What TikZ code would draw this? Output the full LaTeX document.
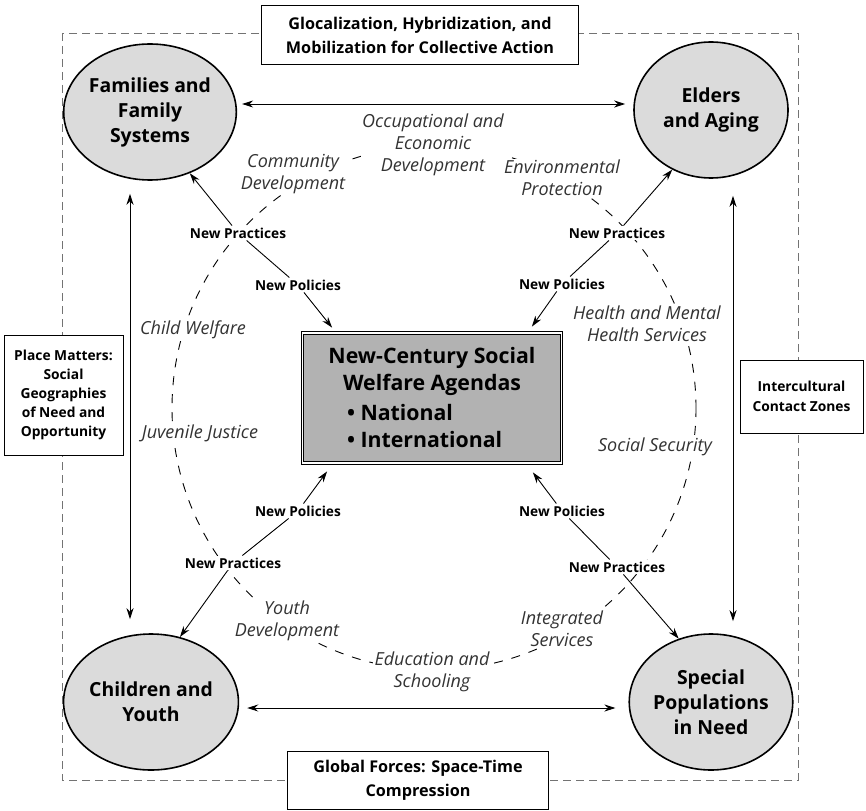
\documentclass[tikz,border=0pt]{standalone}
\usepackage{fontspec}
\setmainfont{Open Sans}
\usetikzlibrary{shapes.geometric,arrows.meta,calc}
\tikzset{group/.style={ellipse, draw, line width=1.6pt, fill=gray!28, minimum width=154pt, minimum height=136pt, inner sep=0pt, align=center, font=\bfseries\fontsize{19.4}{25}\selectfont},
         frame/.style={draw, line width=0.9pt, fill=white, align=center, inner sep=0pt},
         agenda/.style={draw, double, double distance=1.6pt, line width=0.8pt, fill=gray!60, minimum width=259pt, minimum height=130pt, align=center, font=\bfseries\fontsize{21.3}{27}\selectfont},
         tag/.style={fill=white, inner sep=2pt, font=\bfseries\fontsize{13.7}{15}\selectfont},
         field/.style={fill=white, inner sep=1.5pt, align=center, text=black!80, font=\itshape\fontsize{18}{22}\selectfont},
         line/.style={draw, line width=0.9pt, >={Stealth[length=11pt,width=7pt]}}}
\def\ringrad{262}
\newcommand\bul[1]{\makebox[170pt][l]{\textbullet\ #1}}

\begin{document}
\begin{tikzpicture}[x=1pt,y=-1pt]
\useasboundingbox (0,0) rectangle (866,810);
% dashed border and ring of fields
\draw[black!55, line width=0.9pt, dash pattern=on 8pt off 5pt] (62,33) rectangle (798,780);
\coordinate (ctr) at (434,408);
\draw[line width=0.9pt, dash pattern=on 9pt off 9pt] (ctr) circle[radius=\ringrad];

\node[group] (fam) at (150,112) {Families and\\Family\\Systems};
\node[group] (eld) at (711,110) {Elders\\and Aging};
\node[group] (chi) at (151,702) {Children and\\Youth};
\node[group] (spec) at (711,702) {Special\\Populations\\in Need};

\node[agenda] (agenda) at (432,398) {New-Century Social\\Welfare Agendas\\[3pt]\bul{National}\\\bul{International}};

% boxes on the border
\node[frame, minimum width=317pt, minimum height=59pt, font=\bfseries\fontsize{16.2}{24}\selectfont] (glocal) at (420,35) {Glocalization, Hybridization, and\\Mobilization for Collective Action};
\node[frame, minimum width=261pt, minimum height=58pt, font=\bfseries\fontsize{16.2}{24}\selectfont] (forces) at (418,780) {Global Forces: Space-Time\\Compression};
\node[frame, minimum width=119pt, minimum height=120pt, font=\bfseries\fontsize{13.8}{19}\selectfont] (place) at (63.5,395) {Place Matters:\\Social\\Geographies\\of Need and\\Opportunity};
\node[frame, minimum width=123pt, minimum height=73pt, font=\bfseries\fontsize{13.8}{20}\selectfont] (zones) at (801.5,396.5) {Intercultural\\Contact Zones};

% fields on the ring
\node[field] (occ) at (433,145) {Occupational and\\Economic\\Development};
\node[field] (comm) at (293,174) {Community\\Development};
\node[field] (env) at (562,178) {Environmental\\Protection};
\node[field] (cwel) at (193,330) {Child Welfare};
\node[field] (hlth) at (647,324) {Health and Mental\\Health Services};
\node[field] (juv) at (200,433) {Juvenile Justice};
\node[field] (ssec) at (655,447) {Social Security};
\node[field] (yth) at (287,621) {Youth\\Development};
\node[field] (integ) at (562,629) {Integrated\\Services};
\node[field] (edu) at (432,672) {Education and\\Schooling};

\node[tag] (pracTL) at (238,233) {New Practices};
\node[tag] (polTL) at (298,285) {New Policies};
\node[tag] (pracTR) at (617,233) {New Practices};
\node[tag] (polTR) at (562,284) {New Policies};
\node[tag] (polBL) at (298,511) {New Policies};
\node[tag] (pracBL) at (233,563) {New Practices};
\node[tag] (polBR) at (562,511) {New Policies};
\node[tag] (pracBR) at (617,567) {New Practices};

% connections between groups
\draw[line,<->,shorten <=5pt,shorten >=8pt] ([yshift=8pt]fam.east) -- ([yshift=6pt]eld.west);
\draw[line,<->,shorten <=8pt,shorten >=13pt] ([yshift=-6pt]chi.east) -- ([yshift=-6pt]spec.west);
\draw[line,<->,shorten <=13pt,shorten >=14pt] ([xshift=-20pt]fam.south) -- ([xshift=-21pt]chi.north);
\draw[line,<->,shorten <=17pt,shorten >=12pt] ([xshift=22pt]eld.south) -- ([xshift=22pt]spec.north);

% practices and policies
\draw[line,->] (pracTL) -- (fam.-57);
\draw[line] (pracTL) -- (polTL);
\draw[line,->] (polTL) -- ([shift={(30pt,5pt)}]agenda.north west);
\draw[line,->] (pracTR) -- (eld.-123);
\draw[line] (pracTR) -- (polTR);
\draw[line,->] (polTR) -- ([shift={(-30pt,6pt)}]agenda.north east);
\draw[line,->] (pracBL) -- (chi.66);
\draw[line] (pracBL) -- (polBL);
\draw[line,->] (polBL) -- ([shift={(25pt,-8pt)}]agenda.south west);
\draw[line,->] (pracBR) -- (spec.117);
\draw[line] (pracBR) -- (polBR);
\draw[line,->] (polBR) -- ([shift={(-29pt,-9pt)}]agenda.south east);
\end{tikzpicture}
\end{document}
